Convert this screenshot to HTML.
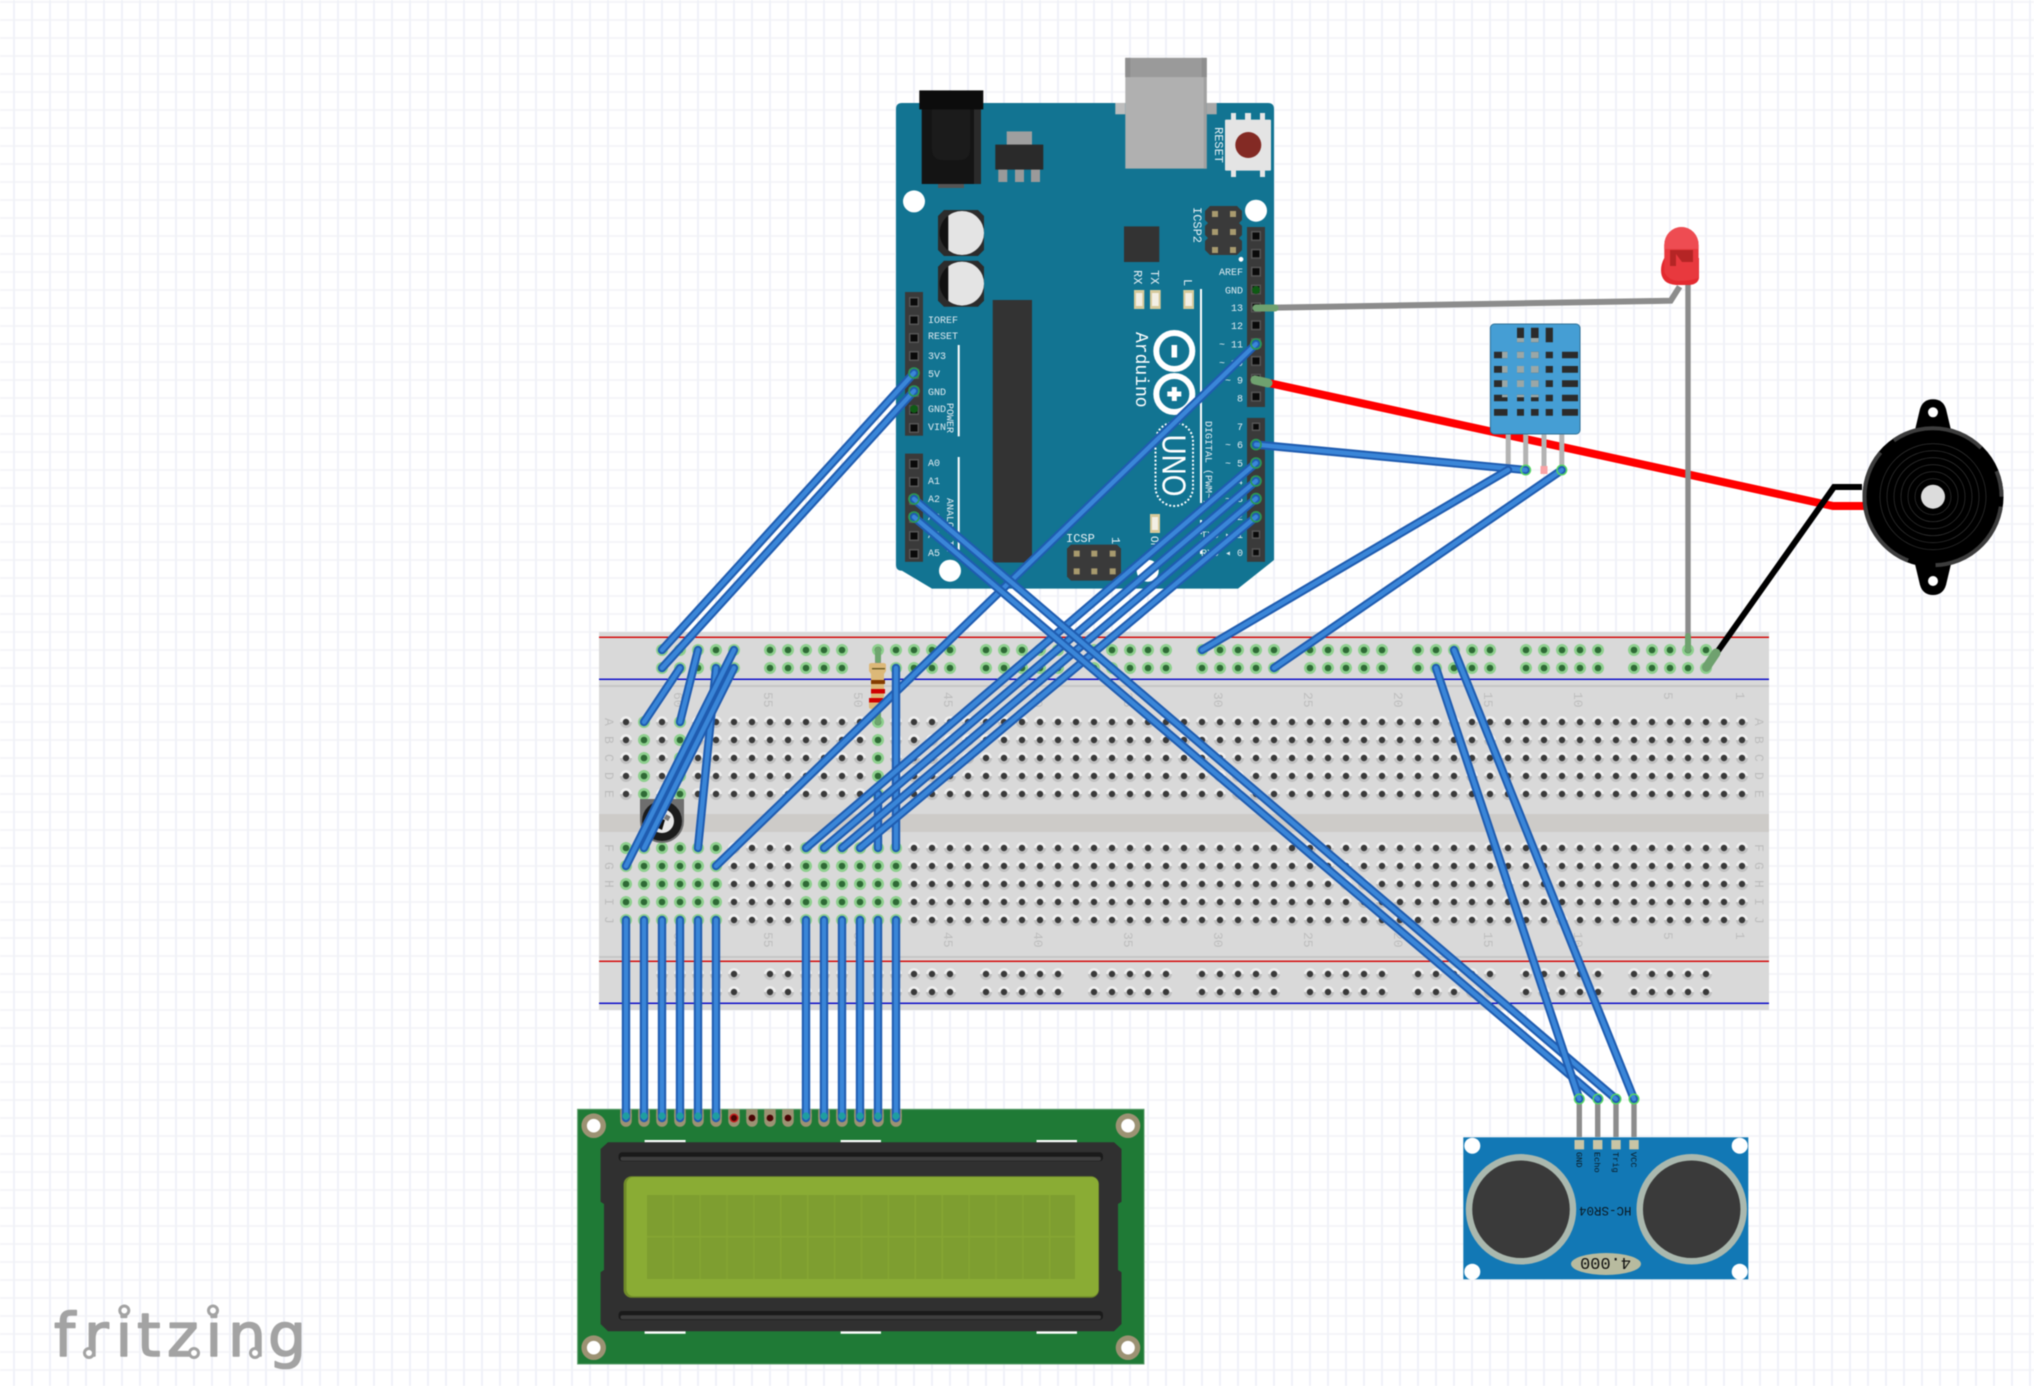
<!DOCTYPE html>
<html>
<head>
<meta charset="utf-8">
<style>
html,body{margin:0;padding:0;background:#fff;width:2034px;height:1386px;overflow:hidden}
svg{display:block;filter:blur(.4px)}
.m{font-family:"Liberation Mono",monospace}
.lbl{font-family:"Liberation Mono",monospace;font-size:10px;fill:#dfeaf0}
.num{font-family:"Liberation Mono",monospace;font-size:13px;fill:#bdbdbd}
.o{fill:none;stroke:#1f5cb0;stroke-width:8.4;stroke-linecap:round}
.i{fill:none;stroke:#3a86d8;stroke-width:4.4;stroke-linecap:round}
</style>
</head>
<body>
<svg width="2034" height="1386" viewBox="0 0 2034 1386" xmlns="http://www.w3.org/2000/svg">
<defs>
<pattern id="bg" patternUnits="userSpaceOnUse" x="0" y="0" width="18" height="18">
<rect x="0" y="1" width="18" height="2" fill="#f5f5f8"/>
<rect x="13" y="0" width="2" height="18" fill="#f0f2f8"/>
</pattern>
<pattern id="hg" patternUnits="userSpaceOnUse" x="617" y="713" width="18" height="18">
<circle cx="9" cy="9" r="6" fill="#bfbfbf"/>
<path d="M3 9a6 6 0 0 1 12 0z" fill="#eeeeee"/>
<circle cx="9" cy="9" r="3.2" fill="#3a3a3a"/>
</pattern>
<pattern id="hv" patternUnits="userSpaceOnUse" x="617" y="713" width="18" height="18">
<circle cx="9" cy="9" r="6" fill="#8ed08e"/>
<circle cx="9" cy="9" r="3.3" fill="#2f6a36"/>
</pattern>
<pattern id="pn" patternUnits="userSpaceOnUse" x="905" y="292" width="18" height="18">
<rect x="4" y="5" width="10" height="10" fill="#555"/>
<rect x="5.5" y="6.5" width="7" height="7" fill="#0a0a0a"/>
</pattern>
<pattern id="pr" patternUnits="userSpaceOnUse" x="1247" y="227" width="18" height="17.85">
<rect x="4" y="4" width="10" height="10" fill="#555"/>
<rect x="5.5" y="5.5" width="7" height="7" fill="#0a0a0a"/>
</pattern>
</defs>

<rect width="2034" height="1386" fill="#fff"/>
<rect width="2034" height="1386" fill="url(#bg)"/>

<!-- breadboard -->
<rect x="599" y="632" width="1170" height="378" fill="#d9d9d9"/>
<rect x="599" y="636.6" width="1170" height="1.4" fill="#d40000"/>
<rect x="599" y="678.6" width="1170" height="1.4" fill="#0000c8"/>
<rect x="599" y="685" width="1170" height="2" fill="#c6c6c6"/>
<rect x="599" y="814" width="1170" height="18" fill="#cdcbc8"/>
<rect x="599" y="956" width="1170" height="2" fill="#c6c6c6"/>
<rect x="599" y="960.6" width="1170" height="1.4" fill="#d40000"/>
<rect x="599" y="1002.6" width="1170" height="1.4" fill="#0000c8"/>
<rect x="617" y="713" width="1134" height="90" fill="url(#hg)"/>
<rect x="617" y="839" width="1134" height="90" fill="url(#hg)"/>
<path fill="url(#hg)" d="M653 965h90v36h-90zM761 965h90v36h-90zM869 965h90v36h-90zM977 965h90v36h-90zM1085 965h90v36h-90zM1193 965h90v36h-90zM1301 965h90v36h-90zM1409 965h90v36h-90zM1517 965h90v36h-90zM1625 965h90v36h-90z"/>
<path fill="url(#hv)" d="M653 641h90v36h-90zM761 641h90v36h-90zM869 641h90v36h-90zM977 641h90v36h-90zM1085 641h90v36h-90zM1193 641h90v36h-90zM1301 641h90v36h-90zM1409 641h90v36h-90zM1517 641h90v36h-90zM1625 641h90v36h-90z"/>
<path fill="url(#hv)" d="M635 713h18v90h-18zM671 713h18v90h-18zM869 713h18v90h-18zM617 839h108v90h-108zM797 839h108v90h-108z"/>
<!-- breadboard numbers -->
<g class="num">
<text transform="translate(674,692) rotate(90)">60</text>
<text transform="translate(764,692) rotate(90)">55</text>
<text transform="translate(854,692) rotate(90)">50</text>
<text transform="translate(944,692) rotate(90)">45</text>
<text transform="translate(1034,692) rotate(90)">40</text>
<text transform="translate(1124,692) rotate(90)">35</text>
<text transform="translate(1214,692) rotate(90)">30</text>
<text transform="translate(1304,692) rotate(90)">25</text>
<text transform="translate(1394,692) rotate(90)">20</text>
<text transform="translate(1484,692) rotate(90)">15</text>
<text transform="translate(1574,692) rotate(90)">10</text>
<text transform="translate(1664,692) rotate(90)">5</text>
<text transform="translate(1736,692) rotate(90)">1</text>
<text transform="translate(674,932) rotate(90)">60</text>
<text transform="translate(764,932) rotate(90)">55</text>
<text transform="translate(854,932) rotate(90)">50</text>
<text transform="translate(944,932) rotate(90)">45</text>
<text transform="translate(1034,932) rotate(90)">40</text>
<text transform="translate(1124,932) rotate(90)">35</text>
<text transform="translate(1214,932) rotate(90)">30</text>
<text transform="translate(1304,932) rotate(90)">25</text>
<text transform="translate(1394,932) rotate(90)">20</text>
<text transform="translate(1484,932) rotate(90)">15</text>
<text transform="translate(1574,932) rotate(90)">10</text>
<text transform="translate(1664,932) rotate(90)">5</text>
<text transform="translate(1736,932) rotate(90)">1</text>
<text transform="translate(605,718) rotate(90)">A</text>
<text transform="translate(605,736) rotate(90)">B</text>
<text transform="translate(605,754) rotate(90)">C</text>
<text transform="translate(605,772) rotate(90)">D</text>
<text transform="translate(605,790) rotate(90)">E</text>
<text transform="translate(605,844) rotate(90)">F</text>
<text transform="translate(605,862) rotate(90)">G</text>
<text transform="translate(605,880) rotate(90)">H</text>
<text transform="translate(605,898) rotate(90)">I</text>
<text transform="translate(605,916) rotate(90)">J</text>
<text transform="translate(1755,718) rotate(90)">A</text>
<text transform="translate(1755,736) rotate(90)">B</text>
<text transform="translate(1755,754) rotate(90)">C</text>
<text transform="translate(1755,772) rotate(90)">D</text>
<text transform="translate(1755,790) rotate(90)">E</text>
<text transform="translate(1755,844) rotate(90)">F</text>
<text transform="translate(1755,862) rotate(90)">G</text>
<text transform="translate(1755,880) rotate(90)">H</text>
<text transform="translate(1755,898) rotate(90)">I</text>
<text transform="translate(1755,916) rotate(90)">J</text>
</g>

<!-- potentiometer -->
<path d="M640 799h44v22a22 22 0 0 1-44 0z" fill="#6e6e6e"/>
<circle cx="662" cy="821" r="20" fill="#1c1c1c"/>
<circle cx="662" cy="821" r="12" fill="#e8e8e8"/>
<path d="M656 817l9 3-3 10-8-4z" fill="#111"/>
<rect x="665" y="815" width="5" height="5" fill="#777" transform="rotate(30 667 817)"/>

<!-- resistor -->
<path d="M878 650V722" stroke="#8c8c8c" stroke-width="6" stroke-linecap="round" fill="none"/>
<path d="M878 650V660M878 712V722" stroke="#6ea56e" stroke-width="6" stroke-linecap="round" fill="none"/>
<path d="M869 665q0-2 3-2h11q3 0 3 2v6l-2 3v24l2 3v6q0 2-3 2h-11q-3 0-3-2v-6l2-3v-24l-2-3z" fill="#dcb878"/>
<rect x="871" y="680" width="14" height="4" fill="#843c00"/>
<rect x="871" y="689" width="14" height="4.5" fill="#cf0000"/>
<rect x="869" y="698" width="14" height="4.5" fill="#cf0000"/>
<rect x="872" y="668" width="13" height="1.4" fill="#6b5a22"/>

<!-- Arduino -->
<path d="M902 103H1268q6 0 6 6V560L1238 588.6H932L902 570.7H902q-6 0-6-6V109q0-6 6-6z" fill="#127492"/>
<circle cx="914" cy="201.4" r="11" fill="#fff"/>
<circle cx="1256" cy="210.7" r="11" fill="#fff"/>
<circle cx="950" cy="570.7" r="11" fill="#fff"/>
<circle cx="1147.7" cy="570.7" r="11" fill="#fff"/>
<!-- jack -->
<rect x="938" y="180" width="26" height="8" fill="#555"/>
<rect x="921.7" y="109" width="59.3" height="75" fill="#141414"/>
<path d="M932 109h38v40q0 11-11 11h-16q-11 0-11-11z" fill="#1b1b1b"/>
<rect x="974" y="109" width="7" height="75" fill="#2a2a2a"/>
<rect x="919.3" y="90.4" width="64" height="19" fill="#0c0c0c"/>
<!-- regulator -->
<rect x="1006.7" y="131.4" width="25.3" height="14" fill="#9f9f9f"/>
<rect x="998.3" y="169" width="9" height="13" fill="#9a9a9a"/>
<rect x="1015" y="169" width="9" height="13" fill="#9a9a9a"/>
<rect x="1031" y="169" width="9" height="13" fill="#9a9a9a"/>
<rect x="995.3" y="144.6" width="48" height="25" fill="#2a2a2a"/>
<!-- USB -->
<rect x="1115.3" y="102.9" width="10" height="11.4" fill="#bdbdbd"/>
<rect x="1206.7" y="102.9" width="10" height="11.4" fill="#a8a8a8"/>
<rect x="1125.3" y="57.9" width="81.4" height="110.7" fill="#b0b0b0"/>
<rect x="1125.3" y="57.9" width="81.4" height="19.2" fill="#9a9a9a"/>
<rect x="1125.3" y="57.9" width="5" height="19.2" fill="#8e8e8e"/>
<rect x="1201.7" y="57.9" width="5" height="19.2" fill="#8e8e8e"/>
<rect x="1203.7" y="77" width="3" height="91.6" fill="#a0a0a0"/>
<!-- reset -->
<rect x="1231" y="113" width="5" height="8" fill="#e6e6e6"/>
<rect x="1245" y="113" width="6" height="8" fill="#e6e6e6"/>
<rect x="1260" y="113" width="5" height="8" fill="#e6e6e6"/>
<rect x="1231" y="170" width="5" height="7" fill="#e6e6e6"/>
<rect x="1260" y="170" width="5" height="7" fill="#e6e6e6"/>
<rect x="1225" y="119.6" width="46" height="51" fill="#e4e4e4" rx="1"/>
<circle cx="1248.3" cy="145" r="13" fill="#832a24"/>
<text class="m" transform="translate(1215,127) rotate(90)" font-size="12" fill="#e8f0f4">RESET</text>
<!-- ICSP2 -->
<path d="M1210 206h27l5 5v9l-3 3 3 3v9l-3 3 3 3v9l-5 5h-27l-5-5v-9l3-3-3-3v-9l3-3-3-3v-9z" fill="#3a3a3a"/>
<path fill="#a89a6e" d="M1212 211h6v6h-6zM1230 211h6v6h-6zM1212 229h6v6h-6zM1230 229h6v6h-6zM1212 247h6v6h-6zM1230 247h6v6h-6z"/>
<circle cx="1241" cy="259.3" r="2.4" fill="#fff"/>
<text class="m" transform="translate(1193.5,207) rotate(90)" font-size="12" fill="#e8f0f4">ICSP2</text>
<!-- caps -->
<path d="M944 210h34l6 6v34l-6 6h-34l-6-6v-34z" fill="#2c2c2c"/>
<path d="M944 260.7h34l6 6v34l-6 6h-34l-6-6v-34z" fill="#2c2c2c"/>
<circle cx="962" cy="233" r="22" fill="#e4e4e4"/>
<circle cx="962" cy="283.6" r="22" fill="#e4e4e4"/>
<path d="M948.3 215.5a22 22 0 0 0 0 35z" fill="#111"/>
<path d="M948.3 266.1a22 22 0 0 0 0 35z" fill="#111"/>
<!-- chip + IC -->
<rect x="1124" y="226.4" width="35.3" height="35.6" fill="#333"/>
<rect x="992.7" y="300" width="39.3" height="262.5" fill="#333"/>
<!-- header pins -->
<rect x="905" y="292" width="18" height="143.7" fill="#3a3a3a"/>
<rect x="905" y="453.6" width="18" height="108.2" fill="#3a3a3a"/>
<rect x="1247" y="227" width="18" height="180" fill="#3a3a3a"/>
<rect x="1247" y="417.9" width="18" height="143.9" fill="#3a3a3a"/>
<rect x="905" y="292" width="18" height="143.7" fill="url(#pn)"/>
<rect x="905" y="454" width="18" height="108" fill="url(#pn)"/>
<rect x="1247" y="227" width="18" height="180" fill="url(#pr)"/>
<path fill="#0a0a0a" stroke="#555" stroke-width="1.5" d="M1252.5 423.3h7v7h-7zM1252.5 441.1h7v7h-7zM1252.5 459.5h7v7h-7zM1252.5 477.5h7v7h-7zM1252.5 495.1h7v7h-7zM1252.5 513.3h7v7h-7zM1252.5 531.1h7v7h-7zM1252.5 549h7v7h-7z"/>
<circle cx="1256" cy="290" r="4" fill="#0f5a14"/>
<circle cx="914" cy="409" r="4" fill="#0f5a14"/>
<!-- small LEDs -->
<path fill="#d6c99a" d="M1134 290h10.3v19H1134zM1150 290h10.7v19H1150zM1183.3 290h10.7v19h-10.7zM1150 514h10v19h-10z"/>
<path fill="#f3efe4" d="M1136 293h6.3v13H1136zM1152 293h6.7v13H1152zM1185.3 293h6.7v13h-6.7zM1152 517h6v13h-6z"/>
<!-- white lines -->
<path d="M1201 289V503M958.7 345V436.4M958.7 457V550" stroke="#fff" stroke-width="2" fill="none"/>
<path d="M1201 520V558" stroke="#fff" stroke-width="2" stroke-dasharray="14 6" fill="none"/>
<g class="m" fill="#e8f0f4" font-size="12">
<text transform="translate(1134,270) rotate(90)">RX</text>
<text transform="translate(1151,270) rotate(90)">TX</text>
<text transform="translate(1184,279) rotate(90)">L</text>
<text transform="translate(1151,536) rotate(90)" font-size="11">ON</text>
<text x="1066" y="542">ICSP</text>
<text transform="translate(1112,537) rotate(90)">1</text>
</g>
<text class="m" transform="translate(1136,332) rotate(90)" font-size="18" fill="#fff">Arduino</text>
<!-- logo -->
<circle cx="1174.3" cy="351" r="18" fill="none" stroke="#fff" stroke-width="6"/>
<circle cx="1174.3" cy="394" r="18" fill="none" stroke="#fff" stroke-width="6"/>
<rect x="1171.5" y="345" width="5.6" height="12.5" fill="#fff"/>
<path d="M1174.3 387v14M1167.3 394h14" stroke="#fff" stroke-width="5" fill="none"/>
<rect x="1155.5" y="422.5" width="37.5" height="83.5" rx="18.7" fill="none" stroke="#fff" stroke-width="2" stroke-dasharray="2 2"/>
<text transform="translate(1162.5,434.5) rotate(90)" font-family="Liberation Sans,sans-serif" font-size="33" fill="#fff" textLength="62" lengthAdjust="spacingAndGlyphs">UNO</text>
<g class="lbl">
<text x="928" y="323">IOREF</text>
<text x="928" y="339">RESET</text>
<text x="928" y="359">3V3</text>
<text x="928" y="377">5V</text>
<text x="928" y="395">GND</text>
<text x="928" y="412">GND</text>
<text x="928" y="430">VIN</text>
<text x="928" y="466">A0</text>
<text x="928" y="484">A1</text>
<text x="928" y="502">A2</text>
<text x="928" y="520">A3</text>
<text x="928" y="538">A4</text>
<text x="928" y="556">A5</text>
<text transform="translate(947,403) rotate(90)">POWER</text>
<text transform="translate(947,498) rotate(90)">ANALOG IN</text>
<g text-anchor="end">
<text x="1243" y="275">AREF</text>
<text x="1243" y="293.5">GND</text>
<text x="1243" y="311">13</text>
<text x="1243" y="329">12</text>
<text x="1243" y="347.5">~ 11</text>
<text x="1243" y="366">~ 10</text>
<text x="1243" y="383.5">~ 9</text>
<text x="1243" y="401.5">8</text>
<text x="1243" y="430">7</text>
<text x="1243" y="448">~ 6</text>
<text x="1243" y="466.5">~ 5</text>
<text x="1243" y="484.5">4</text>
<text x="1243" y="502">~ 3</text>
<text x="1243" y="520">2</text>
<text x="1243" y="538">TX0 ▸ 1</text>
<text x="1243" y="556">RX0 ◂ 0</text>
</g>
<text transform="translate(1205.5,421) rotate(90)">DIGITAL (PWM~)</text>
</g>
<!-- ICSP -->
<path d="M1071 544.6h46l4 4v28l-4 4h-46l-4-4v-28z" fill="#3a3a3a"/>
<path fill="#a89a6e" d="M1073.7 550.6h6v6h-6zM1091.3 550.6h6v6h-6zM1109.7 550.6h6v6h-6zM1073.7 568.4h6v6h-6zM1091.3 568.4h6v6h-6zM1109.7 568.4h6v6h-6z"/>

<!-- LCD -->
<rect x="577.6" y="1109.3" width="566.4" height="254.7" fill="#1f7a36" stroke="#5c9d6c" stroke-width="1"/>
<g fill="#9c9273">
<circle cx="593.7" cy="1125.7" r="12.3"/><circle cx="1128" cy="1125.7" r="12.3"/>
<circle cx="593.7" cy="1347.7" r="12.3"/><circle cx="1128" cy="1347.7" r="12.3"/>
</g>
<g fill="#fff">
<circle cx="593.7" cy="1125.7" r="6.8"/><circle cx="1128" cy="1125.7" r="6.8"/>
<circle cx="593.7" cy="1347.7" r="6.8"/><circle cx="1128" cy="1347.7" r="6.8"/>
<path d="M644.6 1140h41v2.4h-41zM840.6 1140h40.4v2.4h-40.4zM1036.5 1140h40.5v2.4h-40.5zM644.6 1331.3h41v2.4h-41zM840.6 1331.3h40.4v2.4h-40.4zM1036.5 1331.3h40.5v2.4h-40.5z"/>
</g>
<path d="M608 1142.3H1114L1121.5 1149V1201.7L1118 1204V1270L1121.5 1272.3V1324L1114 1331.3H608L600.6 1324V1272.3L604 1270V1204L600.6 1201.7V1149z" fill="#303030"/>
<rect x="618.6" y="1152.3" width="484.4" height="9" rx="3.5" fill="#1a1a1a"/>
<rect x="620.5" y="1156.7" width="480.5" height="4" rx="2" fill="#3e3e3e"/>
<rect x="618.6" y="1311" width="484.4" height="9" rx="3.5" fill="#1a1a1a"/>
<rect x="620.5" y="1315.3" width="480.5" height="4" rx="2" fill="#3e3e3e"/>
<rect x="623.6" y="1176.3" width="475.3" height="121.4" rx="8" fill="#6f8a2a"/>
<rect x="626.5" y="1177" width="472" height="119.3" rx="7" fill="#8aac34"/>
<rect x="647" y="1195" width="428" height="84" fill="#85a532"/>
<g fill="#7e9e30">
<path d="M647 1195h25.3v40.7H647zM674 1195h25.3v40.7H674zM700.9 1195h25.3v40.7h-25.3zM727.8 1195h25.3v40.7h-25.3zM754.7 1195h25.3v40.7h-25.3zM781.6 1195h25.3v40.7h-25.3zM808.5 1195h25.3v40.7h-25.3zM835.4 1195h25.3v40.7h-25.3zM862.3 1195h25.3v40.7h-25.3zM889.2 1195h25.3v40.7h-25.3zM916.1 1195h25.3v40.7h-25.3zM943 1195h25.3v40.7H943zM969.9 1195h25.3v40.7h-25.3zM996.8 1195h25.3v40.7h-25.3zM1023.7 1195h25.3v40.7h-25.3zM1050.6 1195h24.4v40.7h-24.4z"/>
<path d="M647 1237.7h25.3V1279H647zM674 1237.7h25.3V1279H674zM700.9 1237.7h25.3V1279h-25.3zM727.8 1237.7h25.3V1279h-25.3zM754.7 1237.7h25.3V1279h-25.3zM781.6 1237.7h25.3V1279h-25.3zM808.5 1237.7h25.3V1279h-25.3zM835.4 1237.7h25.3V1279h-25.3zM862.3 1237.7h25.3V1279h-25.3zM889.2 1237.7h25.3V1279h-25.3zM916.1 1237.7h25.3V1279h-25.3zM943 1237.7h25.3V1279H943zM969.9 1237.7h25.3V1279h-25.3zM996.8 1237.7h25.3V1279h-25.3zM1023.7 1237.7h25.3V1279h-25.3zM1050.6 1237.7h24.4V1279h-24.4z"/>
</g>
<!-- LCD pins -->
<path d="M626 1115V1121M644 1115V1121M662 1115V1121M680 1115V1121M698 1115V1121M716 1115V1121M734 1115V1121M752 1115V1121M770 1115V1121M788 1115V1121M806 1115V1121M824 1115V1121M842 1115V1121M860 1115V1121M878 1115V1121M896 1115V1121" stroke="#9c9273" stroke-width="11.5" stroke-linecap="round" fill="none"/>
<path d="M620.2 1109.3h11.5v8h-11.5zM638.2 1109.3h11.5v8h-11.5zM656.2 1109.3h11.5v8h-11.5zM674.2 1109.3h11.5v8h-11.5zM692.2 1109.3h11.5v8h-11.5zM710.2 1109.3h11.5v8h-11.5zM728.2 1109.3h11.5v8h-11.5zM746.2 1109.3h11.5v8h-11.5zM764.2 1109.3h11.5v8h-11.5zM782.2 1109.3h11.5v8h-11.5zM800.2 1109.3h11.5v8h-11.5zM818.2 1109.3h11.5v8h-11.5zM836.2 1109.3h11.5v8h-11.5zM854.2 1109.3h11.5v8h-11.5zM872.2 1109.3h11.5v8h-11.5zM890.2 1109.3h11.5v8h-11.5z" fill="#9c9273"/>
<circle cx="734" cy="1118" r="4.5" fill="#c81e1e"/>
<circle cx="734" cy="1118" r="3" fill="#4a0505"/>
<circle cx="752" cy="1118" r="3.4" fill="#4a0505"/>
<circle cx="770" cy="1118" r="3.4" fill="#4a0505"/>
<circle cx="788" cy="1118" r="3.4" fill="#4a0505"/>

<!-- HC-SR04 -->
<rect x="1463.3" y="1137.3" width="285" height="142" fill="#1278b5"/>
<g fill="#fff">
<circle cx="1472.3" cy="1145.7" r="8"/><circle cx="1739.7" cy="1145.7" r="8"/>
<circle cx="1472.3" cy="1271.7" r="8"/><circle cx="1739.7" cy="1271.7" r="8"/>
</g>
<circle cx="1521" cy="1209.3" r="52" fill="#3a3a3a" stroke="#aab8ae" stroke-width="6.5"/>
<circle cx="1691.7" cy="1209.3" r="52" fill="#3a3a3a" stroke="#aab8ae" stroke-width="6.5"/>
<path d="M1579.3 1099V1137M1597.7 1099V1137M1616 1099V1137M1634 1099V1137" stroke="#8c8c8c" stroke-width="5.4" fill="none"/>
<path fill="#c9c5a5" d="M1574.5 1140h9.6v9.4h-9.6zM1593 1140h9.4v9.4H1593zM1611.3 1140h9.4v9.4h-9.4zM1629.3 1140h9.4v9.4h-9.4z"/>
<g class="m" fill="#0b1a24" font-size="8.6">
<text transform="translate(1576.5,1152) rotate(90)">GND</text>
<text transform="translate(1594.7,1152) rotate(90)">Echo</text>
<text transform="translate(1613,1152) rotate(90)">Trig</text>
<text transform="translate(1631,1152) rotate(90)">VCC</text>
</g>
<text class="m" transform="translate(1631.5,1207) rotate(180)" font-size="12.5" fill="#0b1a24">HC-SR04</text>
<ellipse cx="1606" cy="1264" rx="35" ry="11" fill="#b8bb9f"/>
<text class="m" transform="translate(1631,1258) rotate(180)" font-size="17" fill="#111">4.000</text>

<!-- red + black buzzer wires, LED wires -->
<path d="M1255 380L1833 506H1864" fill="none" stroke="#ff0000" stroke-width="8"/>
<path d="M1255 380L1268 383" fill="none" stroke="#6fa16f" stroke-width="9" stroke-linecap="round"/>

<!-- DHT -->
<path d="M1508.2 434V470M1525.7 434V470M1544 434V470M1561.8 434V470" stroke="#b3b3b3" stroke-width="5" fill="none"/>
<rect x="1540.5" y="466" width="7" height="8" fill="#f9a3a6"/>
<rect x="1490.4" y="324" width="89.6" height="110" rx="4" fill="#459ed4" stroke="#2f7299" stroke-width="1"/>
<path fill="#2b2b2b" d="M1517 327.7h7v14.6h-7zM1531 327.7h7.6v14.6H1531zM1545.7 327.7h7.2v14.6h-7.2zM1494 351.7h13.5v6.6H1494zM1517 351.7h7v6.6h-7zM1531 351.7h7.6v6.6H1531zM1545.7 351.7h7.2v6.6h-7.2zM1562 351.7h16v6.6h-16zM1494 366h13.5v6.7H1494zM1517 366h7v6.7h-7zM1531 366h7.6v6.7H1531zM1545.7 366h7.2v6.7h-7.2zM1562 366h16v6.7h-16zM1494 380.3h13.5v6.7H1494zM1517 380.3h7v6.7h-7zM1531 380.3h7.6v6.7H1531zM1545.7 380.3h7.2v6.7h-7.2zM1562 380.3h16v6.7h-16zM1494 394.7h13.5v6.6H1494zM1517 394.7h7v6.6h-7zM1531 394.7h7.6v6.6H1531zM1545.7 394.7h7.2v6.6h-7.2zM1562 394.7h16v6.6h-16zM1494 409h13.5v6.7H1494zM1517 409h7v6.7h-7zM1531 409h7.6v6.7H1531zM1545.7 409h7.2v6.7h-7.2zM1562 409h16v6.7h-16z"/>
<path fill="#9aa7a7" d="M1517 338h7v4.3h-7zM1531 338h7.6v4.3H1531zM1502 351.7h5.5v6.6H1502zM1517 351.7h7v6.6h-7zM1531 351.7h7.6v6.6H1531zM1502 366h5.5v6.7H1502zM1517 366h7v6.7h-7zM1531 366h7.6v6.7H1531zM1502 380.3h5.5v6.7H1502zM1517 380.3h7v6.7h-7zM1531 380.3h7.6v6.7H1531zM1502 394.7h5.5v2.6H1502zM1517 394.7h7v2.6h-7zM1531 394.7h7.6v2.6H1531z"/>

<!-- buzzer -->
<path d="M1862 487H1834L1706.4 667.3" fill="none" stroke="#000" stroke-width="6"/>
<path d="M1716 653L1706.4 667.3" fill="none" stroke="#6fa16f" stroke-width="9" stroke-linecap="round"/>
<path d="M1915 430L1920 409Q1923 399.3 1933 399.3T1946 409L1951 430z" fill="#000"/>
<path d="M1915 564L1920 585Q1923 595 1933 595T1946 585L1951 564z" fill="#000"/>
<circle cx="1933" cy="412.3" r="5" fill="#fff"/>
<circle cx="1933" cy="581" r="5" fill="#fff"/>
<circle cx="1933" cy="496.7" r="70.5" fill="#000"/>
<circle cx="1933" cy="496.7" r="68.5" fill="none" stroke="#3d3d3d" stroke-width="4" stroke-dasharray="95 28 130 18" stroke-dashoffset="-10"/>
<g fill="none" stroke="#3a3a3a" stroke-width=".6">
<circle cx="1933" cy="496.7" r="53"/><circle cx="1933" cy="496.7" r="46"/><circle cx="1933" cy="496.7" r="39"/><circle cx="1933" cy="496.7" r="32"/><circle cx="1933" cy="496.7" r="25"/><circle cx="1933" cy="496.7" r="18"/>
</g>
<circle cx="1933" cy="496.7" r="12" fill="#dcdcdc"/>

<!-- LED -->
<path d="M1256 308L1670.7 300.7L1679.6 286.7" fill="none" stroke="#8c8c8c" stroke-width="6"/>
<path d="M1256 308H1275" fill="none" stroke="#6fa16f" stroke-width="7" stroke-linecap="round"/>
<path d="M1688 285V650" fill="none" stroke="#8c8c8c" stroke-width="5.4"/>
<path d="M1688 636V650" fill="none" stroke="#6fa16f" stroke-width="6" stroke-linecap="round"/>
<path d="M1664.3 258Q1661 264 1661 270Q1661 284 1676 285H1690Q1698 284 1699 278V258z" fill="#e32a30"/>
<path d="M1664.3 245a17.15 18 0 0 1 34.3 0V278Q1690 281 1678 281Q1668 280 1664.3 272z" fill="#e8393e"/>
<path d="M1664.3 245a17.15 18 0 0 1 34.3 0V249H1664.3z" fill="#ee4c52"/>
<path d="M1670 250H1693V262H1682L1676 254V266H1670z" fill="#b52525"/>

<!-- blue wires -->
<g>
<path class="o" d="M914 373L662 650"/><path class="i" d="M914 373L662 650"/>
<path class="o" d="M914 391L662 668"/><path class="i" d="M914 391L662 668"/>
<path class="o" d="M680 668L644 722"/><path class="i" d="M680 668L644 722"/>
<path class="o" d="M698 650L680 722"/><path class="i" d="M698 650L680 722"/>
<path class="o" d="M716 668L698 848"/><path class="i" d="M716 668L698 848"/>
<path class="o" d="M734 668L644 848"/><path class="i" d="M734 668L644 848"/>
<path class="o" d="M734 650L626 866"/><path class="i" d="M734 650L626 866"/>
<path class="o" d="M1256 344L716 866"/><path class="i" d="M1256 344L716 866"/>
<path class="o" d="M878 794V848"/><path class="i" d="M878 794V848"/>
<path class="o" d="M896 668V848"/><path class="i" d="M896 668V848"/>
<path class="o" d="M1256 463L806 848"/><path class="i" d="M1256 463L806 848"/>
<path class="o" d="M1256 481L824 848"/><path class="i" d="M1256 481L824 848"/>
<path class="o" d="M1256 498.6L842 848"/><path class="i" d="M1256 498.6L842 848"/>
<path class="o" d="M1256 516.8L860 848"/><path class="i" d="M1256 516.8L860 848"/>
<path class="o" d="M1256 444.6L1525.7 470"/><path class="i" d="M1256 444.6L1525.7 470"/>
<path class="o" d="M1202 650L1508 470"/><path class="i" d="M1202 650L1508 470"/>
<path class="o" d="M1274 668L1561.8 470"/><path class="i" d="M1274 668L1561.8 470"/>
<path class="o" d="M914 499L1616 1099"/><path class="i" d="M914 499L1616 1099"/>
<path class="o" d="M914 517L1598 1099"/><path class="i" d="M914 517L1598 1099"/>
<path class="o" d="M1436 668L1579.3 1099"/><path class="i" d="M1436 668L1579.3 1099"/>
<path class="o" d="M1454 650L1634 1099"/><path class="i" d="M1454 650L1634 1099"/>
<path class="o" d="M626 920V1118M644 920V1118M662 920V1118M680 920V1118M698 920V1118M716 920V1118M806 920V1118M824 920V1118M842 920V1118M860 920V1118M878 920V1118M896 920V1118"/>
<path class="i" d="M626 920V1118M644 920V1118M662 920V1118M680 920V1118M698 920V1118M716 920V1118M806 920V1118M824 920V1118M842 920V1118M860 920V1118M878 920V1118M896 920V1118"/>
</g>
<!-- wire end accents -->
<g fill="none" stroke="#2a9a55" stroke-width="1.6">
<circle cx="914" cy="373" r="5"/><circle cx="914" cy="391" r="5"/><circle cx="914" cy="499" r="5"/><circle cx="914" cy="517" r="5"/>
<circle cx="1256" cy="344" r="5"/><circle cx="1256" cy="444.6" r="5"/><circle cx="1256" cy="463" r="5"/><circle cx="1256" cy="481" r="5"/><circle cx="1256" cy="498.6" r="5"/><circle cx="1256" cy="516.8" r="5"/>
</g>
<g fill="none" stroke="#55d860" stroke-width="1.4">
<circle cx="1525.7" cy="470" r="4.8"/><circle cx="1561.8" cy="470" r="4.8"/>
<circle cx="1579.3" cy="1099" r="4.8"/><circle cx="1598" cy="1099" r="4.8"/><circle cx="1616" cy="1099" r="4.8"/><circle cx="1634" cy="1099" r="4.8"/>
</g>
<g fill="#1f9ea0">
<circle cx="626" cy="1116" r="3.6"/><circle cx="644" cy="1116" r="3.6"/><circle cx="662" cy="1116" r="3.6"/><circle cx="680" cy="1116" r="3.6"/><circle cx="698" cy="1116" r="3.6"/><circle cx="716" cy="1116" r="3.6"/>
<circle cx="806" cy="1116" r="3.6"/><circle cx="824" cy="1116" r="3.6"/><circle cx="842" cy="1116" r="3.6"/><circle cx="860" cy="1116" r="3.6"/><circle cx="878" cy="1116" r="3.6"/><circle cx="896" cy="1116" r="3.6"/>
</g>

<!-- fritzing logo -->
<g font-family="DejaVu Sans,sans-serif" font-size="60" fill="#a3a3a3" stroke="#a3a3a3" stroke-width="1.6" stroke-linejoin="round">
<text x="54" y="1356">f</text>
<text x="84" y="1356">r</text>
<text x="115.5" y="1356">i</text>
<text x="137" y="1356">t</text>
<text x="167" y="1356">z</text>
<text x="205.5" y="1356">i</text>
<text x="228" y="1356">n</text>
<text x="268" y="1356">g</text>
</g>
<g fill="#fff" stroke="#a3a3a3" stroke-width="3">
<circle cx="124.3" cy="1310.5" r="4.5"/>
<circle cx="213" cy="1310.5" r="4.5"/>
<circle cx="89" cy="1353" r="4.5"/>
<circle cx="194" cy="1353" r="4.5"/>
<circle cx="255" cy="1353" r="4.5"/>
</g>
</svg>
</body>
</html>
